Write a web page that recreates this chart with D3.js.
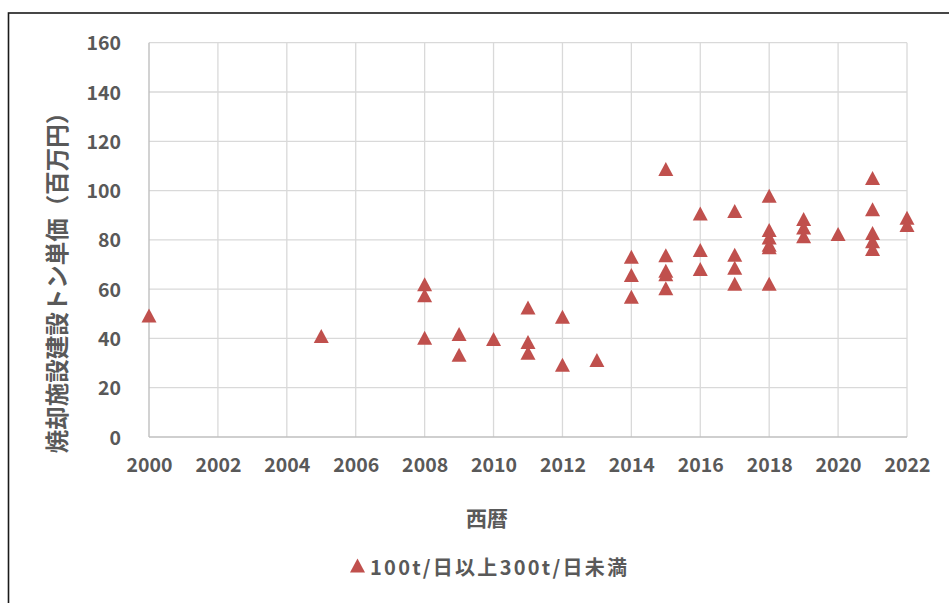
<!DOCTYPE html>
<html><head><meta charset="utf-8">
<script src="https://cdn.jsdelivr.net/npm/d3@7"></script>
<style>html,body{margin:0;padding:0;background:#fff;overflow:hidden}</style>
</head><body>
<svg id="c" width="949" height="603"></svg>
<script>
const years = [2000,2005,2008,2008,2008,2009,2009,2010,2011,2011,2011,2012,2012,2013,
  2014,2014,2014,2015,2015,2015,2015,2015,2016,2016,2016,2017,2017,2017,2017,
  2018,2018,2018,2018,2018,2018,2019,2019,2019,2020,2021,2021,2021,2021,2021,2022,2022];
const values = [49.3,41,62,57.5,40.3,41.8,33.4,39.8,52.5,38.5,34.2,48.8,29.3,31.2,
  73.1,65.7,56.9,108.8,73.8,67.5,66,60.4,90.7,75.9,68.2,91.7,74,68.7,62.2,
  97.9,84,81,78,77,62.2,88.5,85,81.5,82.4,105.1,92.4,82.8,79.4,76.3,89,86];
const xTicks = [2000,2002,2004,2006,2008,2010,2012,2014,2016,2018,2020,2022];
const yTicks = [0,20,40,60,80,100,120,140,160];
const yTitle = "焼却施設建設トン単価（百万円）";
const xTitle = "西暦";
const seriesName = "100t/日以上300t/日未満";

const svg = d3.select("#c");
const font = "'Noto Sans CJK JP','Noto Sans',sans-serif";
const txt = "#595959";
const red = "#c0504d";

svg.append("rect").attr("x",8.5).attr("y",13).attr("width",960).attr("height",620)
  .attr("fill","#fff").attr("stroke","#1a1a1a").attr("stroke-width",1.6);

const x = d3.scaleLinear().domain([2000,2022]).range([149,907]);
const y = d3.scaleLinear().domain([0,160]).range([437,42.7]);

const g = svg.append("g");
g.selectAll(".hg").data(yTicks.filter(d=>d>0)).join("line")
  .attr("x1",x(2000)).attr("x2",x(2022)).attr("y1",d=>y(d)).attr("y2",d=>y(d))
  .attr("stroke","#d9d9d9").attr("stroke-width",1.3);
g.selectAll(".vg").data(xTicks.filter(d=>d>2000)).join("line")
  .attr("y1",y(0)).attr("y2",y(160)).attr("x1",d=>x(d)).attr("x2",d=>x(d))
  .attr("stroke","#d9d9d9").attr("stroke-width",1.3);
g.append("line").attr("x1",x(2000)).attr("x2",x(2022)).attr("y1",y(0)).attr("y2",y(0))
  .attr("stroke","#bfbfbf").attr("stroke-width",1.4);
g.append("line").attr("x1",x(2000)).attr("x2",x(2000)).attr("y1",y(0)).attr("y2",y(160))
  .attr("stroke","#bfbfbf").attr("stroke-width",1.4);

const yAxis = d3.axisLeft(y).tickValues(yTicks).tickSize(0).tickPadding(0);
const ya = svg.append("g").attr("transform","translate(121,0)").call(yAxis);
ya.select(".domain").remove();
ya.selectAll("text").attr("font-family",font).attr("font-size",19.5).attr("font-weight","bold")
  .attr("fill",txt).attr("dy","0.36em");

const xAxis = d3.axisBottom(x).tickValues(xTicks).tickFormat(d3.format("d")).tickSize(0).tickPadding(0);
const xa = svg.append("g").attr("transform","translate(0,458)").call(xAxis);
xa.select(".domain").remove();
xa.selectAll("text").attr("font-family",font).attr("font-size",19.5).attr("font-weight","bold")
  .attr("fill",txt).attr("dy","0.72em");

const tri = "M0,-7L7.5,7L-7.5,7Z";
svg.append("g").selectAll("path").data(years.map((yr,i)=>[yr,values[i]])).join("path")
  .attr("d",tri).attr("fill",red)
  .attr("transform",d=>`translate(${x(d[0])},${y(d[1])})`);

svg.append("text").attr("transform","translate(55.5,277) rotate(-90)")
  .attr("text-anchor","middle").attr("dominant-baseline","central")
  .attr("font-family",font).attr("font-size",23.5).attr("font-weight","bold").attr("fill",txt)
  .text(yTitle);
svg.append("text").attr("x",487).attr("y",517).attr("text-anchor","middle")
  .attr("dominant-baseline","central")
  .attr("font-family",font).attr("font-size",21).attr("font-weight","bold").attr("fill",txt)
  .text(xTitle);

svg.append("path").attr("d",tri).attr("fill",red).attr("transform","translate(357.5,565.5)");
svg.append("text").attr("x",370).attr("y",566).attr("dominant-baseline","central")
  .attr("font-family",font).attr("font-size",20).attr("font-weight","bold").attr("fill",txt)
  .attr("textLength",257).attr("lengthAdjust","spacing")
  .text(seriesName);
</script>
</body></html>
